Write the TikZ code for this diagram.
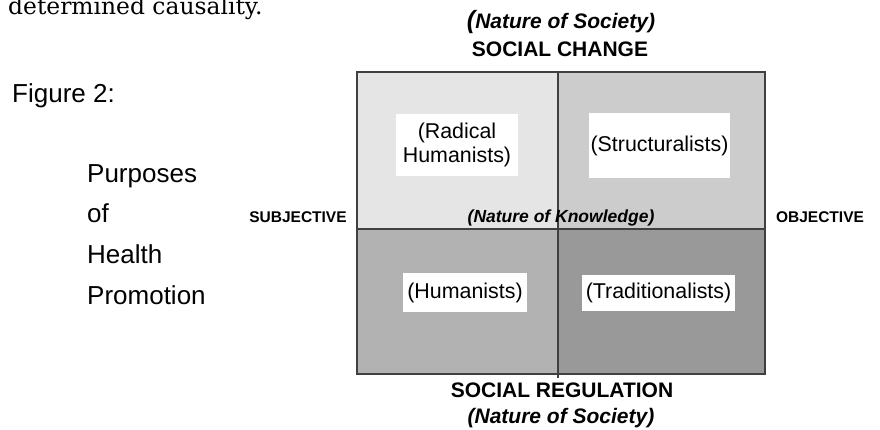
\documentclass[tikz,border=0pt]{standalone}
\usepackage{fontspec}
\setmainfont{Liberation Sans}
\newfontfamily\textserif{DejaVu Serif}
\begin{document}
\begin{tikzpicture}[x=1pt,y=-1pt,
  quadlabel/.style={fill=white, inner sep=0pt, align=center,
    font=\fontsize{21.4}{23.5}\selectfont},
  axislabel/.style={font=\bfseries\fontsize{15.5}{18}\selectfont},
  heading/.style={font=\bfseries\fontsize{21}{24}\selectfont},
  headingit/.style={font=\bfseries\itshape\fontsize{21}{24}\selectfont},
  sideline/.style={anchor=base west, inner sep=0pt, font=\fontsize{26}{30}\selectfont},
  divider/.style={draw=black!75, line width=1.3pt}]
\useasboundingbox (0,0) rectangle (880,430);
\fill[white] (0,0) rectangle (880,430);

% closing words of the preceding paragraph
\node[anchor=base west, inner sep=0pt, font=\textserif\fontsize{23.4}{28}\selectfont]
  (para) at (8,15) {determined causality.};

% the four quadrants
\fill[black!10] (357,72) rectangle (558,229);
\fill[black!20] (558,72) rectangle (765,229);
\fill[black!30] (357,229) rectangle (558,374);
\fill[black!40] (558,229) rectangle (765,374);
\draw[divider] (357,72) rectangle (765,374);
\draw[divider] (357,229) -- (765,229);
\draw[divider] (558,72) -- (558,378);

% quadrant labels
\node[quadlabel, minimum width=122pt, minimum height=62pt] (radical) at (457,145)
  {(Radical\\Humanists)};
\node[quadlabel, minimum width=141pt, minimum height=65pt] (struct) at (659.5,145.5)
  {(Structuralists)};
\node[quadlabel, minimum width=124pt, minimum height=39pt] (human) at (465,292.5)
  {(Humanists)};
\node[quadlabel, minimum width=153pt, minimum height=36pt] (trad) at (658.5,293)
  {(Traditionalists)};

% axis labels
\node[headingit] (societytop) at (561,22)
  {{\fontsize{25}{24}\selectfont(}Nature of Society)};
\node[heading] (change) at (560,49) {SOCIAL CHANGE};
\node[heading] (regulation) at (562,390) {SOCIAL REGULATION};
\node[headingit] (societybot) at (561,418) {(Nature of Society)};
\node[axislabel] (subj) at (298,217) {SUBJECTIVE};
\node[axislabel] (obj) at (820,217) {OBJECTIVE};
\node[axislabel, font=\bfseries\itshape\fontsize{17.5}{20}\selectfont] (knowledge)
  at (561,218) {(Nature of Knowledge)};

% caption at the left
\node[sideline] (fig) at (12,103) {Figure 2:};
\node[sideline] (l1) at (87,183) {Purposes};
\node[sideline] (l2) at (87,223) {of};
\node[sideline] (l3) at (87,263) {Health};
\node[sideline] (l4) at (87,304) {Promotion};
\end{tikzpicture}
\end{document}
